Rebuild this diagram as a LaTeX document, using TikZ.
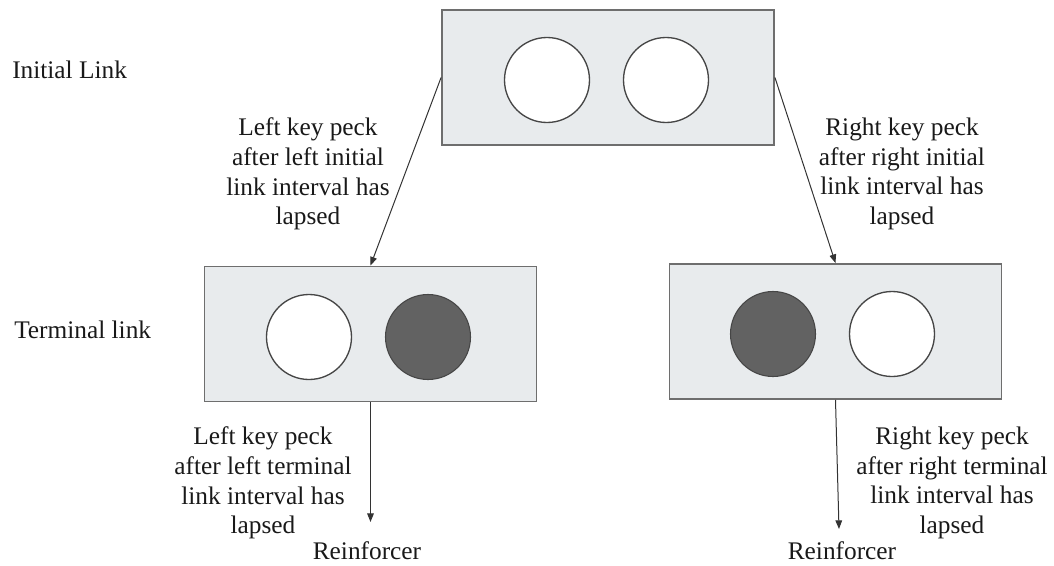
\documentclass[tikz,border=0pt]{standalone}
\usepackage{fontspec}
\setmainfont{Liberation Serif}
\usetikzlibrary{arrows.meta}
\definecolor{boxfill}{RGB}{232,235,237}
\definecolor{boxline}{RGB}{110,110,110}
\definecolor{keydark}{RGB}{98,98,98}
\definecolor{keyline}{RGB}{70,70,70}
\begin{document}
\begin{tikzpicture}[x=0.75pt,y=-0.75pt,
  panel/.style={draw=boxline,fill=boxfill,line width=1.4pt,minimum width=332*0.75pt,minimum height=135*0.75pt,inner sep=0pt},
  keywhite/.style={circle,draw=keyline,fill=white,line width=1pt,minimum size=85*0.75pt,inner sep=0pt},
  keyblack/.style={circle,draw=keyline,fill=keydark,line width=0.8pt,minimum size=85*0.75pt,inner sep=0pt},
  lbl/.style={align=center,font=\fontsize{19}{22.2}\selectfont,inner sep=0pt,text=black!90},
  side/.style={anchor=west,font=\fontsize{19}{22.2}\selectfont,inner sep=0pt,text=black!90},
  conn/.style={draw=black!80,line width=0.75pt,-{Triangle[length=6.5pt,width=5pt]}}]
\useasboundingbox (0,0) rectangle (1054,565);
% panels
\node[panel] (init) at (608,77.5) {};
\node[panel] (lterm) at (370.5,334) {};
\node[panel] (rterm) at (835.5,331.5) {};
% keys
\node[keywhite] (i1) at (547,80) {};
\node[keywhite] (i2) at (666,80) {};
\node[keywhite] (l1) at (309,337) {};
\node[keyblack] (l2) at (428,337) {};
\node[keyblack] (r1) at (773,334) {};
\node[keywhite] (r2) at (892,334) {};
% side labels
\node[side] (tinit) at (12,70) {Initial Link};
\node[side] (tterm) at (14,330) {Terminal link};
% transition labels
\node[lbl] (lil) at (308,174) {Left key peck\\after left initial\\link interval has\\lapsed};
\node[lbl] (ril) at (902,174) {Right key peck\\after right initial\\link interval has\\lapsed};
\node[lbl] (ltl) at (263,483) {Left key peck\\after left terminal\\link interval has\\lapsed};
\node[lbl] (rtl) at (952,483) {Right key peck\\after right terminal\\link interval has\\lapsed};
\node[lbl] (rfl) at (367,551) {Reinforcer};
\node[lbl] (rfr) at (842,551) {Reinforcer};
% arrow ends
\coordinate (la) at (370.5,522);
\coordinate (ra) at (839,529);
% connectors
\draw[conn] (init.west) -- (lterm.north);
\draw[conn] (init.east) -- (rterm.north);
\draw[conn] (lterm.south) -- (la);
\draw[conn] (rterm.south) -- (ra);
\end{tikzpicture}
\end{document}
